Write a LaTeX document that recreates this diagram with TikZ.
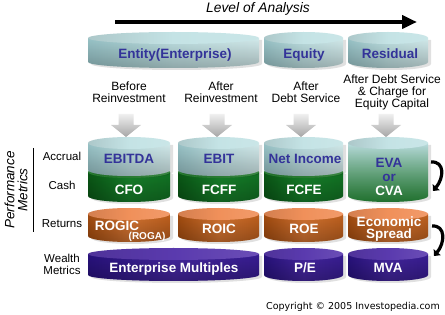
\documentclass[tikz,border=0pt]{standalone}
\usepackage{fontspec}
\setmainfont{Liberation Sans}
\newfontfamily\copyfont{DejaVu Sans}
\usetikzlibrary{arrows.meta,fadings}

\definecolor{navy}{HTML}{333399}
\definecolor{cyanlid}{HTML}{C4E3E5}
\definecolor{cyanL}{HTML}{98C3C7}
\definecolor{cyanM}{HTML}{BEDFE1}
\definecolor{cyanR}{HTML}{D2EAEB}
\definecolor{greenlid}{HTML}{2E8C38}
\definecolor{greenL}{HTML}{0A5716}
\definecolor{greenM}{HTML}{17802A}
\definecolor{greenR}{HTML}{127224}
\definecolor{orangelid}{HTML}{F0905A}
\definecolor{orangeL}{HTML}{A24C10}
\definecolor{orangeM}{HTML}{D47432}
\definecolor{orangeR}{HTML}{BE601E}
\definecolor{purplelid}{HTML}{5A3AAE}
\definecolor{purpleL}{HTML}{28127C}
\definecolor{purpleM}{HTML}{44269E}
\definecolor{purpleR}{HTML}{381D92}
\definecolor{evatop}{HTML}{BADCDE}
\definecolor{evabot}{HTML}{2C963E}

\tikzset{
  cyanbody/.style={left color=cyanL,right color=cyanR,middle color=cyanM},
  greenbody/.style={left color=greenL,right color=greenR,middle color=greenM},
  orangebody/.style={left color=orangeL,right color=orangeR,middle color=orangeM},
  purplebody/.style={left color=purpleL,right color=purpleR,middle color=purpleM},
  evabody/.style={top color=evatop,bottom color=evabot},
  bold/.style={font=\bfseries\fontsize{13.5}{15}\selectfont,anchor=base,inner sep=0pt},
  navylbl/.style={bold,text=navy},
  whitelbl/.style={bold,text=white},
  plain/.style={font=\fontsize{12}{12}\selectfont,align=center,inner sep=0pt},
  rowlbl/.style={font=\fontsize{11.5}{12}\selectfont,anchor=base,inner sep=0pt},
  curl/.style={line width=3.2pt,-{Triangle[length=5pt,width=9pt]}},
}

% drum: left x, right x, top edge, bottom edge (all in pt, y downward), body style, lid colour
\def\drumry{6}
\newcommand{\drum}[6]{%
  \pgfmathsetmacro\drumrx{(#2-#1)/2}%
  \pgfmathsetmacro\drumcx{(#1+#2)/2}%
  \pgfmathsetmacro\drumyt{-(#3)-\drumry}%
  \pgfmathsetmacro\drumyb{-(#4)+\drumry}%
  \fill[black,opacity=.12] (#1+3,\drumyt-2) -- (#1+3,\drumyb-2)
    arc[start angle=180,end angle=360,x radius=\drumrx pt,y radius=\drumry pt]
    -- (#2+3,\drumyt-2) -- cycle;
  \path[#5] (#1,\drumyt) -- (#1,\drumyb)
    arc[start angle=180,end angle=360,x radius=\drumrx pt,y radius=\drumry pt]
    -- (#2,\drumyt) -- cycle;
  \fill[black,path fading=north,fill opacity=.25] (#1,\drumyt) -- (#1,\drumyb)
    arc[start angle=180,end angle=360,x radius=\drumrx pt,y radius=\drumry pt]
    -- (#2,\drumyt) -- cycle;
  \path[left color=#6!88!black,right color=#6!90!white,middle color=#6]
    (\drumcx,\drumyt) ellipse[x radius=\drumrx pt,y radius=\drumry pt];
}
% grey block arrow pointing down, centred on x
\newcommand{\blockarrow}[1]{%
  \path[top color=gray!12,bottom color=gray!70]
    (#1-7.5,-114) -- (#1+7.5,-114) -- (#1+7.5,-125) -- (#1+15,-125)
    -- (#1,-137) -- (#1-15,-125) -- (#1-7.5,-125) -- cycle;
}

\begin{document}
\begin{tikzpicture}[x=1pt,y=1pt]
\useasboundingbox (0,0) rectangle (445,-315);
\fill[white] (0,0) rectangle (445,-315);

% heading and analysis-level arrow
\node[font=\itshape\fontsize{13.8}{15}\selectfont,inner sep=0pt] (level) at (258,-9) {Level of Analysis};
\coordinate (axisL) at (115,-22);
\coordinate (axisR) at (417,-22);
\draw[line width=4pt,-{Triangle[length=15pt,width=13pt]}] (axisL) -- (axisR);

% level drums
\drum{88}{259}{32}{68}{cyanbody}{cyanlid}
\drum{264}{343}{32}{68}{cyanbody}{cyanlid}
\drum{348}{428}{32}{68}{cyanbody}{cyanlid}
\node[navylbl] (entity) at (175,-58.8) {Entity(Enterprise)};
\node[navylbl] (equity) at (304,-58.8) {Equity};
\node[navylbl] (residual) at (390,-58.8) {Residual};

% stage descriptions
\node[plain] (before) at (129,-92) {Before\\Reinvestment};
\node[plain] (after) at (221,-92) {After\\Reinvestment};
\node[plain] (afterdebt) at (306,-92) {After\\Debt Service};
\node[plain] (aftercharge) at (392,-92) {After Debt Service\\\& Charge for\\Equity Capital};

\blockarrow{126}
\blockarrow{217}
\blockarrow{301}
\blockarrow{386}

% cash drums below accrual drums
\drum{88}{170}{166}{202}{greenbody}{greenlid}
\drum{178}{259}{166}{202}{greenbody}{greenlid}
\drum{264}{343}{166}{202}{greenbody}{greenlid}
\drum{88}{170}{137}{176}{cyanbody}{cyanlid}
\drum{178}{259}{137}{176}{cyanbody}{cyanlid}
\drum{264}{343}{137}{176}{cyanbody}{cyanlid}
\drum{348}{428}{137}{202}{evabody}{cyanlid}

\node[navylbl] (ebitda) at (129,-163.8) {EBITDA};
\node[navylbl] (ebit) at (219,-163.8) {EBIT};
\node[navylbl] (netinc) at (305,-163.8) {Net Income};
\node[whitelbl] (cfo) at (129,-194.8) {CFO};
\node[whitelbl] (fcff) at (219,-194.8) {FCFF};
\node[whitelbl] (fcfe) at (304,-194.8) {FCFE};
\node[bold,anchor=center,align=center,text=white,font=\bfseries\fontsize{13.5}{14}\selectfont] (eva) at (389,-177)
  {\textcolor{navy}{EVA}\\\textcolor{navy}{or}\\CVA};

% returns drums
\drum{88}{170}{208}{242}{orangebody}{orangelid}
\drum{178}{259}{208}{242}{orangebody}{orangelid}
\drum{264}{343}{208}{242}{orangebody}{orangelid}
\drum{348}{428}{208}{242}{orangebody}{orangelid}
\node[whitelbl] (rogic) at (117,-230.2) {ROGIC};
\node[whitelbl,font=\bfseries\fontsize{10}{12}\selectfont] (roga) at (147,-239.6) {(ROGA)};
\node[whitelbl] (roic) at (219,-233.8) {ROIC};
\node[whitelbl] (roe) at (304,-233.8) {ROE};
\node[bold,anchor=center,align=center,text=white,font=\bfseries\fontsize{13.5}{12}\selectfont] (spread) at (389,-229) {Economic\\Spread};

% wealth drums
\drum{88}{259}{248}{281}{purplebody}{purplelid}
\drum{264}{343}{248}{281}{purplebody}{purplelid}
\drum{348}{428}{248}{281}{purplebody}{purplelid}
\node[whitelbl] (multiples) at (174,-272.8) {Enterprise Multiples};
\node[whitelbl] (pe) at (305,-272.8) {P/E};
\node[whitelbl] (mva) at (388,-272.8) {MVA};

% row labels
\node[rowlbl] (accrual) at (62,-161) {Accrual};
\node[rowlbl] (cash) at (62,-190) {Cash};
\node[rowlbl] (returns) at (62,-228) {Returns};
\node[plain,font=\fontsize{11.5}{12}\selectfont] (wealth) at (62,-264) {Wealth\\Metrics};
\coordinate (bracketT) at (33,-148);
\coordinate (bracketB) at (33,-232);
\draw[line width=0.8pt] (bracketT) -- (bracketB);
\node[font=\itshape\fontsize{13.5}{13}\selectfont,align=center,rotate=90,inner sep=0pt] (perf) at (16,-190) {Performance\\Metrics};

% linking curls on the right
\coordinate (curlAs) at (431,-162);
\coordinate (curlAe) at (433,-191);
\draw[curl] (curlAs) .. controls (445,-161) and (444,-178) .. (curlAe);
\coordinate (curlBs) at (432,-226);
\coordinate (curlBe) at (434,-256);
\draw[curl] (curlBs) .. controls (446,-225) and (445,-243) .. (curlBe);

\node[font=\copyfont\fontsize{9.5}{11}\selectfont,anchor=base east,inner sep=0pt] (copy) at (440,-310) {Copyright © 2005 Investopedia.com};
\end{tikzpicture}
\end{document}
